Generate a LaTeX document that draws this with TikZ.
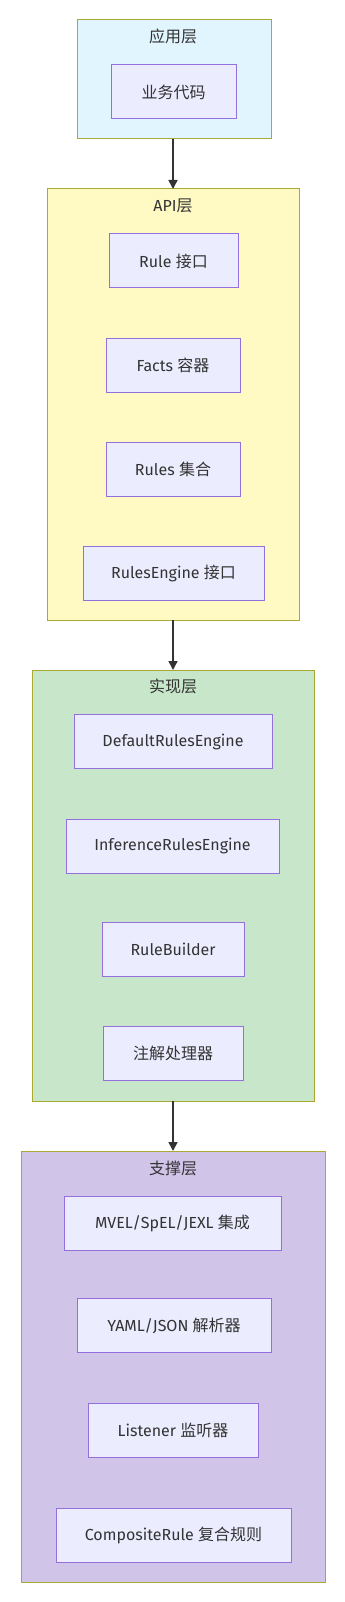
\documentclass[tikz,border=0pt]{standalone}
\usepackage{fontspec}
\setmainfont{Fira Sans}
\newfontfamily\cjk{Noto Sans CJK SC}
\usetikzlibrary{arrows.meta}
\definecolor{txt}{HTML}{333333}
\definecolor{clstroke}{HTML}{AAAA33}
\definecolor{appfill}{HTML}{E1F5FE}
\definecolor{apifill}{HTML}{FFF9C4}
\definecolor{implfill}{HTML}{C8E6C9}
\definecolor{supfill}{HTML}{D1C4E9}
\definecolor{nfill}{HTML}{ECECFF}
\definecolor{nstroke}{HTML}{9370DB}
\tikzset{
  cluster/.style={draw=clstroke, line width=1pt, inner sep=0pt, outer sep=0pt},
  nb/.style={draw=nstroke, fill=nfill, line width=1pt, inner sep=0pt, outer sep=0pt, minimum height=54pt, text=txt, font=\fontsize{16}{19}\selectfont},
  ttl/.style={text=txt, font=\fontsize{16}{19}\selectfont, inner sep=0pt},
  link/.style={draw=txt, line width=1.6pt, -{Triangle[length=9pt,width=9pt]}}
}
\begin{document}
\begin{tikzpicture}[x=1pt,y=-1pt]
\useasboundingbox (0,0) rectangle (345,1602);
% clusters
\node[cluster, fill=appfill, minimum width=194pt, minimum height=119pt] (app) at (174,79.5) {};
\node[cluster, fill=apifill, minimum width=252pt, minimum height=431pt] (api) at (173,404.5) {};
\node[cluster, fill=implfill, minimum width=282pt, minimum height=431pt] (impl) at (173,885.5) {};
\node[cluster, fill=supfill, minimum width=304pt, minimum height=431pt] (sup) at (173,1366.5) {};
% titles
\node[ttl] (tapp) at (173,36) {\cjk 应用层};
\node[ttl] (tapi) at (173,206) {API{\cjk 层}};
\node[ttl] (timpl) at (173,686) {\cjk 实现层};
\node[ttl] (tsup) at (173,1168) {\cjk 支撑层};
% nodes
\node[nb, minimum width=125pt] (biz) at (173.5,92) {\cjk 业务代码};
\node[nb, minimum width=129pt] (rule) at (173.5,261) {Rule {\cjk 接口}};
\node[nb, minimum width=134pt] (facts) at (173,365) {Facts {\cjk 容器}};
\node[nb, minimum width=134pt] (rules) at (173,469) {Rules {\cjk 集合}};
\node[nb, minimum width=181pt] (re) at (173.5,573) {RulesEngine {\cjk 接口}};
\node[nb, minimum width=198pt] (dre) at (173,741.5) {DefaultRulesEngine};
\node[nb, minimum width=213pt] (ire) at (172.5,846) {InferenceRulesEngine};
\node[nb, minimum width=142pt] (rb) at (173,949.5) {RuleBuilder};
\node[nb, minimum width=140pt] (ann) at (173,1053) {\cjk 注解处理器};
\node[nb, minimum width=217pt] (mvel) at (172.5,1223.5) {MVEL/SpEL/JEXL {\cjk 集成}};
\node[nb, minimum width=194pt] (yaml) at (174,1325.5) {YAML/JSON {\cjk 解析器}};
\node[nb, minimum width=170pt] (lis) at (173,1430) {Listener {\cjk 监听器}};
\node[nb, minimum width=235pt] (comp) at (173.5,1535) {CompositeRule {\cjk 复合规则}};
% links
\draw[link] (app.south -| 173,0) -- (api.north -| 173,0);
\draw[link] (api.south -| 173,0) -- (impl.north -| 173,0);
\draw[link] (impl.south -| 173,0) -- (sup.north -| 173,0);
\end{tikzpicture}
\end{document}
